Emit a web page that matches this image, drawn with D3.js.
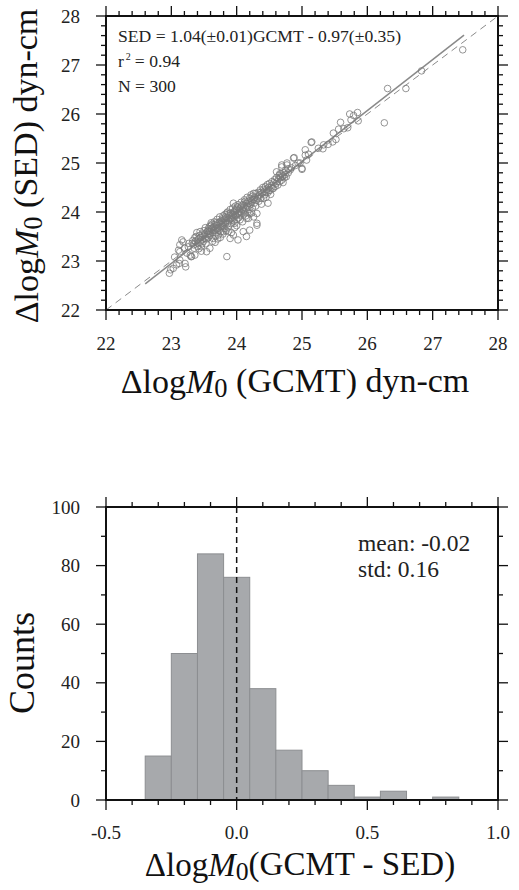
<!DOCTYPE html>
<html>
<head>
<meta charset="utf-8">
<script src="https://cdn.jsdelivr.net/npm/d3@7"></script>
<style>
  body { margin: 0; background: #fff; }
  svg { display: block; font-family: "Liberation Serif", "Times New Roman", serif; }
</style>
</head>
<body>
<svg id="chart" width="519" height="890"></svg>
<script>
// scatter: [GCMT, SED] log moments
const points = [
  [22.97,22.75],[22.99,22.82],[23.03,22.85],[23.08,22.92],[23.12,22.95],[23.22,22.88],[23.21,22.95],[23.13,23.02],
  [23.29,23.12],[23.16,23.43],[23.11,23.22],[23.13,23.19],[23.26,23.29],[23.18,23.39],[23.13,23.33],[23.05,23.08],
  [23.24,23.16],[23.27,23.36],[23.30,23.09],[23.20,23.26],
  [23.31,23.09],[23.34,23.33],[23.36,23.12],[23.33,23.42],[23.38,23.50],[23.40,23.30],[23.42,23.45],[23.44,23.38],
  [23.46,23.29],[23.47,23.55],[23.48,23.44],[23.50,23.62],[23.52,23.46],[23.53,23.35],[23.54,23.19],[23.35,23.26],
  [23.37,23.40],[23.39,23.58],[23.41,23.36],[23.43,23.52],[23.45,23.48],[23.49,23.40],[23.51,23.55],[23.52,23.68],
  [23.53,23.50],[23.55,23.60],[23.32,23.36],[23.36,23.48],[23.40,23.43],[23.44,23.60],[23.47,23.35],[23.50,23.52],
  [23.54,23.45],[23.46,23.20],[23.42,23.25],
  [23.56,23.62],[23.57,23.48],[23.58,23.70],[23.59,23.26],[23.60,23.55],[23.61,23.66],[23.62,23.75],[23.63,23.58],
  [23.64,23.46],[23.65,23.70],[23.66,23.80],[23.67,23.62],[23.68,23.52],[23.69,23.75],[23.70,23.85],[23.71,23.66],
  [23.72,23.53],[23.73,23.78],[23.74,23.90],[23.75,23.70],[23.76,23.60],[23.77,23.82],[23.78,23.74],[23.79,23.92],
  [23.80,23.60],[23.56,23.55],[23.58,23.60],[23.60,23.72],[23.62,23.64],[23.64,23.68],[23.66,23.58],[23.68,23.78],
  [23.70,23.72],[23.72,23.68],[23.74,23.80],[23.76,23.76],[23.78,23.86],[23.80,23.78],[23.57,23.66],[23.61,23.78],
  [23.65,23.62],[23.69,23.65],[23.73,23.62],[23.77,23.70],[23.63,23.40],[23.67,23.38],[23.71,23.45],[23.75,23.48],
  [23.79,23.55],[23.59,23.52],
  [23.80,23.70],[23.81,23.85],[23.82,23.95],[23.83,23.78],[23.84,23.62],[23.85,23.09],[23.85,23.88],[23.86,24.00],
  [23.87,23.70],[23.88,23.82],[23.89,23.92],[23.90,23.46],[23.90,24.05],[23.91,23.86],[23.92,23.76],[23.93,23.96],
  [23.94,24.08],[23.95,23.53],[23.95,23.90],[23.96,23.82],[23.97,23.77],[23.97,24.02],[23.98,24.12],[23.99,23.92],
  [24.00,23.85],[24.00,24.06],[24.01,23.96],[24.02,23.43],[24.02,24.15],[24.03,23.88],[24.04,24.00],[24.05,23.84],
  [23.81,23.76],[23.83,23.90],[23.84,23.82],[23.86,23.76],[23.88,23.96],[23.89,23.86],[23.91,23.98],[23.92,23.88],
  [23.93,23.84],[23.94,23.93],[23.96,24.00],[23.98,23.94],[23.99,24.04],[24.01,24.10],[24.03,23.98],[24.04,24.06],
  [23.82,23.66],[23.87,23.60],[23.92,23.58],[23.97,23.68],[24.00,23.72],[23.85,23.98],[23.95,24.18],
  [24.05,23.94],[24.06,24.10],[24.07,24.20],[24.08,23.98],[24.09,24.05],[24.10,23.60],[24.10,24.15],[24.11,24.02],
  [24.12,24.25],[24.13,24.08],[24.14,23.92],[24.15,23.87],[24.15,24.18],[24.16,24.30],[24.17,24.10],[24.18,23.87],
  [24.18,24.22],[24.19,24.05],[24.20,23.63],[24.20,23.97],[24.20,24.28],[24.21,24.15],[24.22,24.35],[24.23,24.20],
  [24.24,24.08],[24.25,24.26],[24.26,23.90],[24.26,24.38],[24.27,24.18],[24.28,24.30],[24.29,24.12],[24.30,24.24],
  [24.06,24.00],[24.08,24.14],[24.11,24.12],[24.13,24.22],[24.16,24.12],[24.19,24.18],[24.22,24.24],[24.24,24.32],
  [24.27,24.26],[24.29,24.38],[24.15,23.50],[24.09,23.80],[24.23,23.98],[24.12,23.96],[24.17,24.00],
  [24.31,23.73],[24.31,23.97],[24.31,23.77],[24.32,24.28],[24.33,24.40],[24.34,24.22],[24.35,24.35],[24.36,24.45],
  [24.37,24.28],[24.38,24.16],[24.39,24.38],[24.40,24.50],[24.41,24.28],[24.42,24.42],[24.43,24.35],[24.44,24.52],
  [24.45,24.30],[24.46,24.46],[24.47,24.56],[24.48,24.18],[24.48,24.40],[24.49,24.50],[24.50,24.58],[24.51,24.44],
  [24.52,24.36],[24.53,24.54],[24.54,24.62],[24.55,24.48],[24.33,24.32],[24.37,24.40],[24.41,24.46],[24.45,24.40],
  [24.49,24.44],[24.53,24.50],[24.56,24.48],
  [24.57,24.60],[24.58,24.66],[24.59,24.52],[24.60,24.58],[24.61,24.70],[24.62,24.62],[24.63,24.55],[24.64,24.68],
  [24.65,24.75],[24.66,24.62],[24.67,24.70],[24.68,24.78],[24.69,24.65],[24.70,24.72],[24.71,24.60],[24.72,24.80],
  [24.73,24.70],[24.74,24.76],[24.75,24.85],[24.69,24.92],[24.69,24.96],[24.77,25.00],[24.77,24.96],[24.79,24.80],
  [24.61,24.82],[24.66,24.78],[24.71,24.74],[24.76,24.72],[24.79,24.88],
  [24.87,25.10],[24.88,25.11],[24.94,25.00],[24.97,25.00],[25.00,24.89],[25.00,24.87],[25.05,25.16],[25.07,25.06],
  [25.05,25.27],[25.15,25.43],[25.14,25.42],[24.84,24.90],[24.90,24.95],[25.10,25.18],[24.82,24.86],
  [25.32,25.29],[25.33,25.37],[25.47,25.43],[25.48,25.61],[25.56,25.69],[25.59,25.83],[25.75,25.88],[25.86,25.86],
  [25.73,26.00],[25.79,25.97],[25.85,26.03],[25.25,25.30],[25.40,25.38],[25.52,25.48],[25.64,25.70],[25.70,25.72],
  [26.26,25.82],[26.31,26.52],[26.59,26.52],[26.83,26.88],[27.46,27.31]
];

const fitSlope = 1.04;
const fitIntercept = -0.97;
const fitRange = [22.6, 27.48];
const scatterTicks = [22, 23, 24, 25, 26, 27, 28];
const fitLines = ["SED = 1.04(\u00b10.01)GCMT - 0.97(\u00b10.35)", "r", "N = 300"];

// histogram of GCMT - SED, bins of 0.1 centred on -0.3 .. 0.8
const binCenters = [-0.3, -0.2, -0.1, 0.0, 0.1, 0.2, 0.3, 0.4, 0.5, 0.6, 0.7, 0.8];
const binCounts = [15, 50, 84, 76, 38, 17, 10, 5, 1, 3, 0, 1];
const binWidth = 0.1;
const histXTicks = [-0.5, 0.0, 0.5, 1.0];
const histXLabels = ["-0.5", "0.0", "0.5", "1.0"];
const histYTicks = [0, 20, 40, 60, 80, 100];
const histStats = ["mean: -0.02", "std: 0.16"];

const svg = d3.select("#chart");

const plotLeft = 106, plotRight = 498;

const frame = (g, x, y, xMajor, xMinor, yMajor, yMinor) => {
  const [x0, x1] = x.range();
  const [y0, y1] = y.range();
  const ticks = g.append("g").attr("stroke", "#111").attr("stroke-width", 1.3);
  xMinor.forEach(v => {
    ticks.append("line").attr("x1", x(v)).attr("x2", x(v)).attr("y1", y0).attr("y2", y0 + 5);
    ticks.append("line").attr("x1", x(v)).attr("x2", x(v)).attr("y1", y1).attr("y2", y1 - 5);
  });
  xMajor.forEach(v => {
    ticks.append("line").attr("x1", x(v)).attr("x2", x(v)).attr("y1", y0).attr("y2", y0 + 10);
    ticks.append("line").attr("x1", x(v)).attr("x2", x(v)).attr("y1", y1).attr("y2", y1 - 10);
  });
  yMinor.forEach(v => {
    ticks.append("line").attr("y1", y(v)).attr("y2", y(v)).attr("x1", x0).attr("x2", x0 - 5);
    ticks.append("line").attr("y1", y(v)).attr("y2", y(v)).attr("x1", x1).attr("x2", x1 + 5);
  });
  yMajor.forEach(v => {
    ticks.append("line").attr("y1", y(v)).attr("y2", y(v)).attr("x1", x0).attr("x2", x0 - 10);
    ticks.append("line").attr("y1", y(v)).attr("y2", y(v)).attr("x1", x1).attr("x2", x1 + 10);
  });
  g.append("rect")
    .attr("x", x0).attr("y", y1)
    .attr("width", x1 - x0).attr("height", y0 - y1)
    .attr("fill", "none").attr("stroke", "#111").attr("stroke-width", 2);
};

const minorTicks = (lo, hi, step, major) =>
  d3.range(Math.round((hi - lo) / step) + 1).map(i => +(lo + i * step).toFixed(3))
    .filter(v => !major.some(m => Math.abs(m - v) < 1e-6));

const logM0 = (t, rest) => {
  t.append("tspan").text("\u0394log");
  t.append("tspan").attr("font-style", "italic").text("M");
  t.append("tspan").attr("font-size", "0.78em").attr("dy", "0.16em").text("0");
  t.append("tspan").attr("dy", "-0.16em").text(rest);
};

// ---------- scatter ----------
const x = d3.scaleLinear().domain([22, 28]).range([plotLeft, plotRight]);
const y = d3.scaleLinear().domain([22, 28]).range([310, 16]);

const scatterG = svg.append("g");

scatterG.append("line")
  .attr("x1", x(22)).attr("y1", y(22)).attr("x2", x(28)).attr("y2", y(28))
  .attr("stroke", "#8a8a8a").attr("stroke-width", 1).attr("stroke-dasharray", "7,5");

scatterG.append("line")
  .attr("x1", x(fitRange[0])).attr("y1", y(fitSlope * fitRange[0] + fitIntercept))
  .attr("x2", x(fitRange[1])).attr("y2", y(fitSlope * fitRange[1] + fitIntercept))
  .attr("stroke", "#8a8a8a").attr("stroke-width", 1.5);

scatterG.append("g").selectAll("circle")
  .data(points)
  .join("circle")
  .attr("cx", d => x(d[0]))
  .attr("cy", d => y(d[1]))
  .attr("r", 3.3)
  .attr("fill", "none")
  .attr("stroke", "#7a7a7a")
  .attr("stroke-width", 0.8);

frame(scatterG, x, y, scatterTicks, minorTicks(22, 28, 0.2, scatterTicks), scatterTicks, minorTicks(22, 28, 0.2, scatterTicks));

scatterG.append("g").selectAll("text")
  .data(scatterTicks).join("text")
  .attr("x", d => x(d)).attr("y", 350)
  .attr("text-anchor", "middle").attr("font-size", 19).attr("fill", "#222")
  .text(d => d);

scatterG.append("g").selectAll("text")
  .data(scatterTicks).join("text")
  .attr("x", 80).attr("y", d => y(d)).attr("dy", "0.35em")
  .attr("text-anchor", "end").attr("font-size", 19).attr("fill", "#222")
  .text(d => d);

const ann = scatterG.append("g").attr("font-size", 17.6).attr("fill", "#222");
ann.append("text").attr("x", 118).attr("y", 42).text(fitLines[0]);
const r2 = ann.append("text").attr("x", 118).attr("y", 67);
r2.append("tspan").text(fitLines[1]);
r2.append("tspan").attr("font-size", 10).attr("dx", 2).attr("dy", -7).text("2");
r2.append("tspan").attr("dy", 7).attr("dx", 4).text("= 0.94");
ann.append("text").attr("x", 118).attr("y", 92).text(fitLines[2]);

const xl = scatterG.append("text").attr("x", 295).attr("y", 393)
  .attr("text-anchor", "middle").attr("font-size", 34).attr("fill", "#111");
logM0(xl, " (GCMT) dyn-cm");

const yl = scatterG.append("text").attr("transform", "translate(38,166) rotate(-90)")
  .attr("text-anchor", "middle").attr("font-size", 34).attr("fill", "#111");
logM0(yl, " (SED) dyn-cm");

// ---------- histogram ----------
const hx = d3.scaleLinear().domain([-0.5, 1.0]).range([plotLeft, plotRight]);
const hy = d3.scaleLinear().domain([0, 100]).range([800, 507]);

const histG = svg.append("g");

histG.append("g").selectAll("rect")
  .data(binCenters)
  .join("rect")
  .attr("x", d => hx(d - binWidth / 2))
  .attr("y", (d, i) => hy(binCounts[i]))
  .attr("width", d => hx(d + binWidth / 2) - hx(d - binWidth / 2))
  .attr("height", (d, i) => hy(0) - hy(binCounts[i]))
  .attr("fill", "#a7a9ac")
  .attr("stroke", "#8c8e91")
  .attr("stroke-width", 1);

histG.append("line")
  .attr("x1", hx(0)).attr("x2", hx(0)).attr("y1", hy(100)).attr("y2", hy(0))
  .attr("stroke", "#111").attr("stroke-width", 1.5).attr("stroke-dasharray", "6,4");

frame(histG, hx, hy, histXTicks, minorTicks(-0.5, 1.0, 0.1, histXTicks), histYTicks, minorTicks(0, 100, 10, histYTicks));

histG.append("g").selectAll("text")
  .data(histXTicks).join("text")
  .attr("x", d => hx(d)).attr("y", 839)
  .attr("text-anchor", "middle").attr("font-size", 19).attr("fill", "#222")
  .text((d, i) => histXLabels[i]);

histG.append("g").selectAll("text")
  .data(histYTicks).join("text")
  .attr("x", 80).attr("y", d => hy(d)).attr("dy", "0.35em")
  .attr("text-anchor", "end").attr("font-size", 19).attr("fill", "#222")
  .text(d => d);

histG.append("g").attr("font-size", 23.5).attr("fill", "#222")
  .selectAll("text").data(histStats).join("text")
  .attr("x", 358).attr("y", (d, i) => 551 + i * 26)
  .text(d => d);

const hxl = histG.append("text").attr("x", 300).attr("y", 876)
  .attr("text-anchor", "middle").attr("font-size", 33).attr("fill", "#111");
logM0(hxl, "(GCMT - SED)");

histG.append("text").attr("transform", "translate(34,663) rotate(-90)")
  .attr("text-anchor", "middle").attr("font-size", 36).attr("fill", "#111")
  .text("Counts");
</script>
</body>
</html>
